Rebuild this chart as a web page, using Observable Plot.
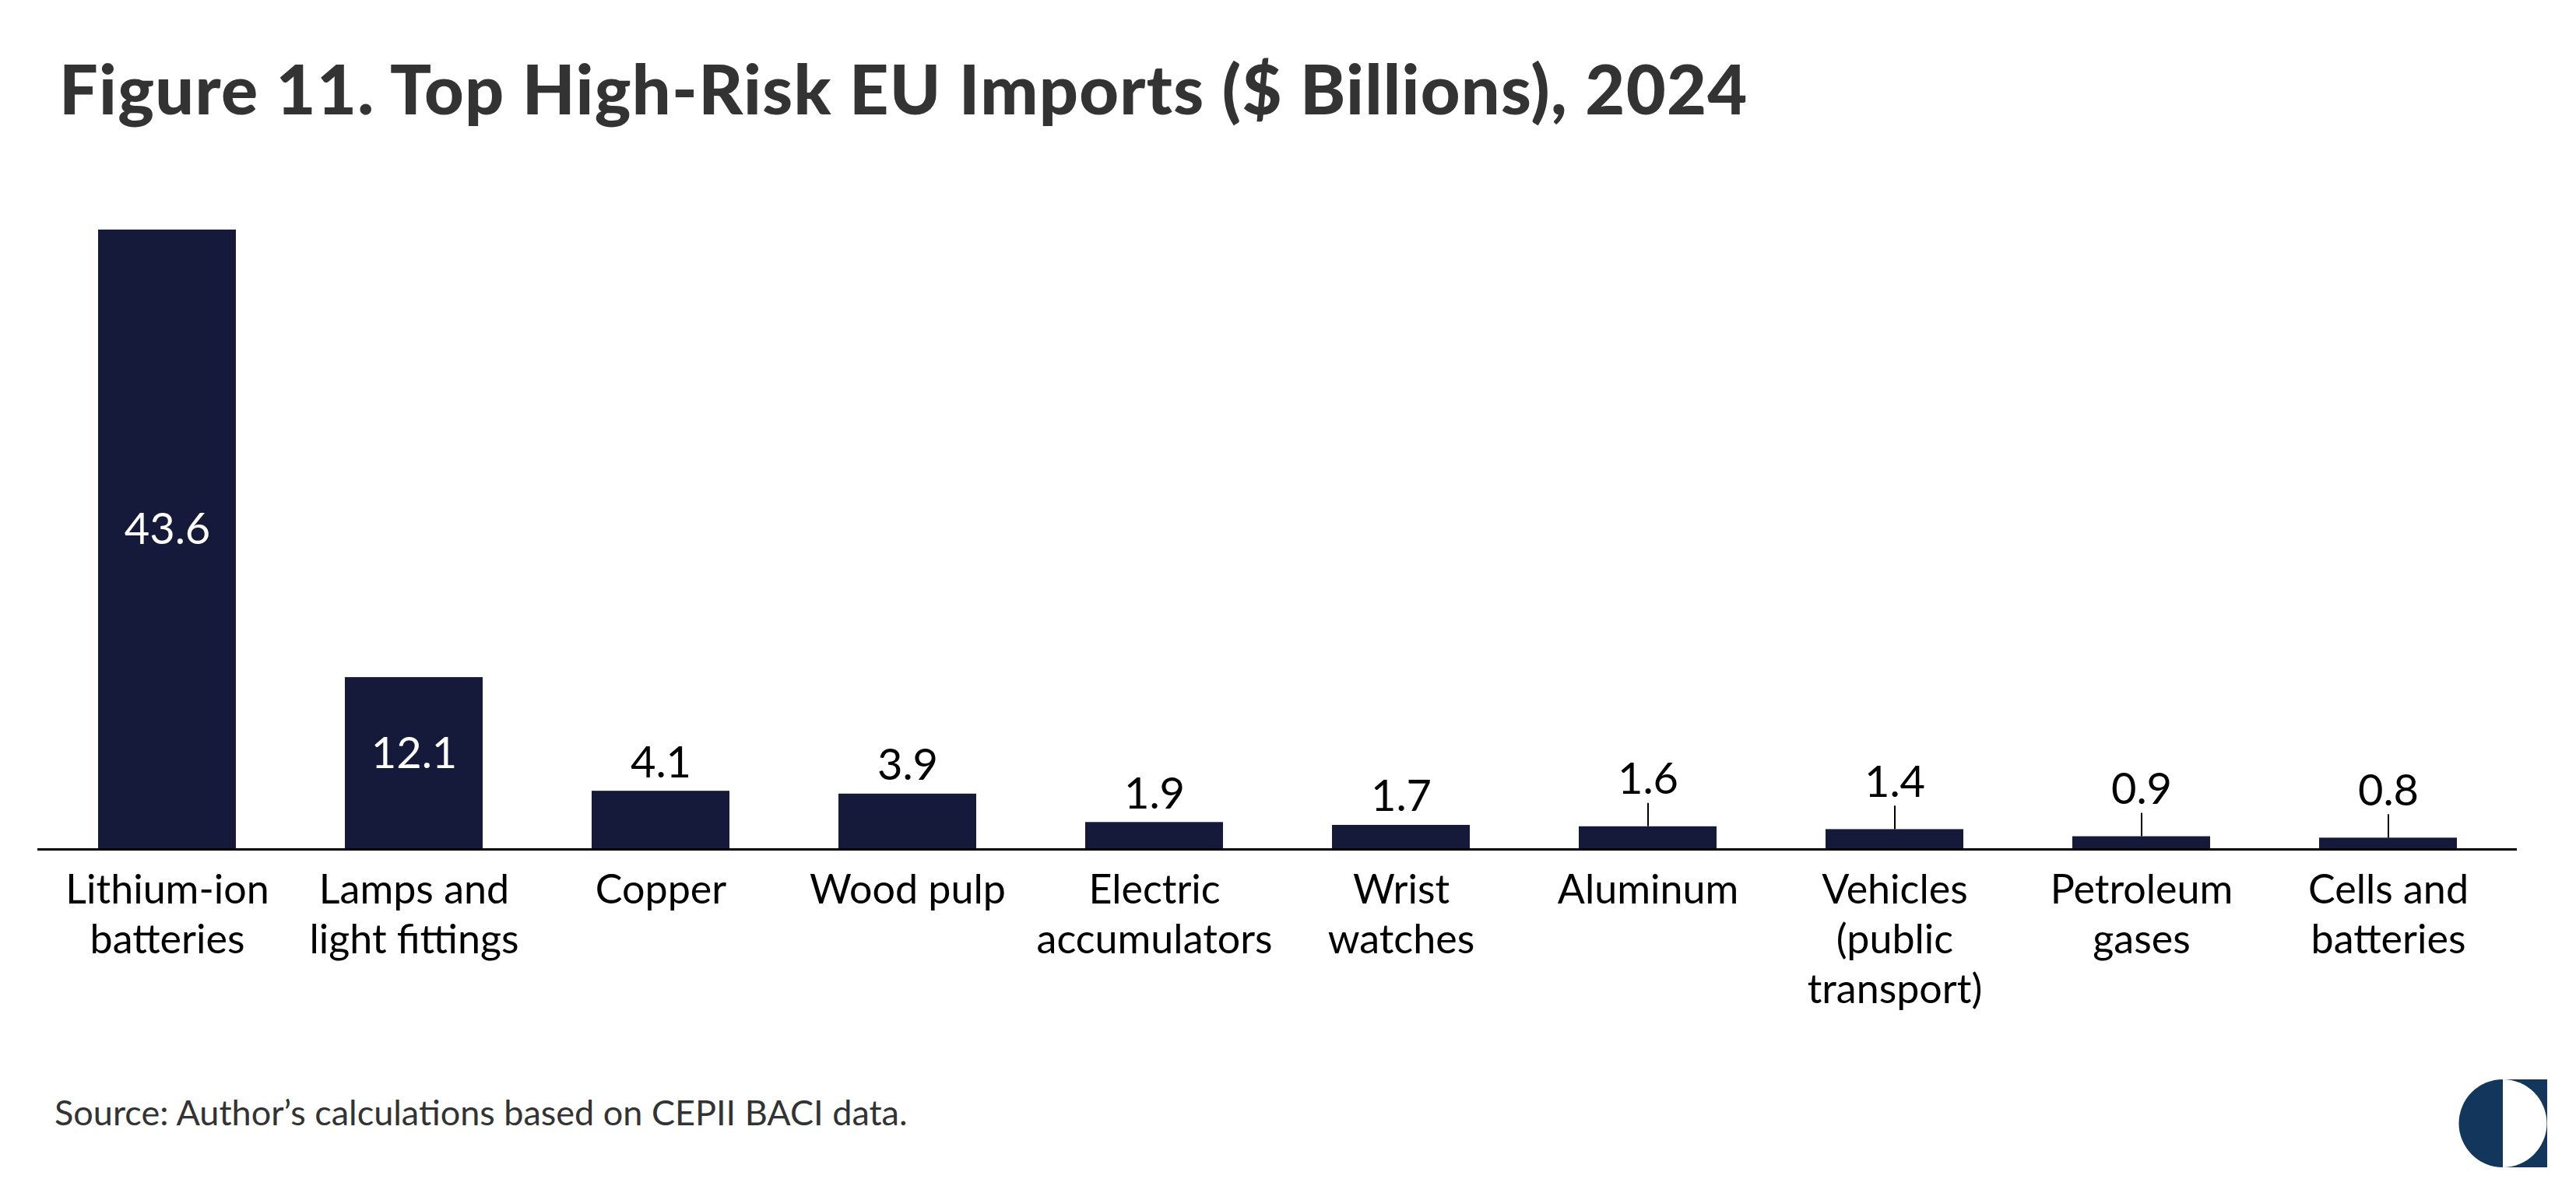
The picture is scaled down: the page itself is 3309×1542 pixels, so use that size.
<!DOCTYPE html>
<html>
<head>
<meta charset="utf-8">
<script src="https://cdn.jsdelivr.net/npm/d3@7"></script>
<script src="https://cdn.jsdelivr.net/npm/@observablehq/plot@0.6"></script>
<style>
  html, body { margin: 0; padding: 0; background: #fff; }
  body { width: 3309px; height: 1542px; position: relative; overflow: hidden; font-family: Lato, "Noto Sans", sans-serif; }
  #title { position: absolute; left: 76px; top: 69px; font-size: 88px; letter-spacing: 1.3px; line-height: 1; font-weight: 900; color: #333; white-space: nowrap; }
  #chart { position: absolute; left: 0; top: 250px; }
  #caption { position: absolute; left: 70px; top: 1407px; font-size: 45px; line-height: 1; color: #333; white-space: nowrap; }
  #logo { position: absolute; left: 3158px; top: 1387px; }
</style>
</head>
<body>
<div id="title">Figure 11. Top High-Risk EU Imports ($ Billions), 2024</div>
<div id="chart"></div>
<div id="caption">Source: Author’s calculations based on CEPII BACI data.</div>
<svg id="logo" width="114" height="113" viewBox="0 0 114 113">
  <rect x="57" y="0" width="57" height="113" fill="#13375c"/>
  <path d="M57,0 A56.5,56.5 0 0 1 57,113 Z" fill="#fff"/>
  <path d="M57,0 A56.5,56.5 0 0 0 57,113 Z" fill="#13375c"/>
</svg>
<script>
const categories = ["Lithium-ion batteries", "Lamps and light fittings", "Copper", "Wood pulp", "Electric accumulators", "Wrist watches", "Aluminum", "Vehicles (public transport)", "Petroleum gases", "Cells and batteries"];
const values = [43.6, 12.1, 4.1, 3.9, 1.9, 1.7, 1.6, 1.4, 0.9, 0.8];
const tickLabels = ["Lithium-ion\nbatteries", "Lamps and\nlight fittings", "Copper", "Wood pulp", "Electric\naccumulators", "Wrist\nwatches", "Aluminum", "Vehicles\n(public\ntransport)", "Petroleum\ngases", "Cells and\nbatteries"];

const data = categories.map((c, i) => ({category: c, value: values[i]}));
const tickMap = new Map(categories.map((c, i) => [c, tickLabels[i]]));
const inside = data.filter(d => d.value >= 10);
const above = data.filter(d => d.value < 10 && d.value >= 1.65);
const leader = data.filter(d => d.value < 1.65);
const fmt = d => d.value.toFixed(1);
const barColor = "#15193a";

const chart = Plot.plot({
  width: 3309,
  height: 1080,
  marginLeft: 48,
  marginRight: 76,
  marginTop: 45,
  marginBottom: 239,
  style: {fontFamily: "Lato, 'Noto Sans', sans-serif", background: "transparent", color: "#000"},
  x: {domain: categories, paddingInner: 0.4425, paddingOuter: 0.237, axis: null},
  y: {domain: [0, d3.max(values)], axis: null},
  marks: [
    Plot.barY(data, {x: "category", y: "value", fill: barColor}),
    Plot.ruleY([0], {stroke: "#000", strokeWidth: 3}),
    Plot.axisX({tickSize: 0, tickPadding: 24, fontSize: 52, lineHeight: 1.23, tickFormat: d => tickMap.get(d), label: null, fill: "#000"}),
    Plot.text(inside, {x: "category", y: d => d.value / 2, text: fmt, fill: "#fff", fontSize: 56, dy: -12}),
    Plot.text(above, {x: "category", y: "value", text: fmt, fill: "#000", fontSize: 56, lineAnchor: "bottom", dy: -18}),
    Plot.ruleX(leader, {x: "category", y1: "value", y2: d => d.value + 1.65, stroke: "#000", strokeWidth: 2}),
    Plot.text(leader, {x: "category", y: "value", text: fmt, fill: "#000", fontSize: 56, lineAnchor: "bottom", dy: -42})
  ]
});
document.getElementById("chart").appendChild(chart);
</script>
</body>
</html>
